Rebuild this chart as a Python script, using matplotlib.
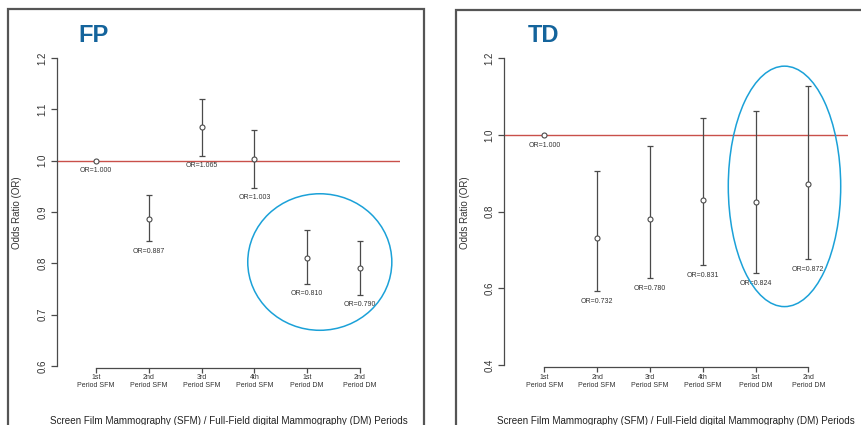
import matplotlib
matplotlib.use("Agg")
import matplotlib.pyplot as plt
from matplotlib.patches import Ellipse, Rectangle

plt.rcParams['font.family'] = ['Liberation Sans', 'DejaVu Sans']

# categories on the x axis
periods = ["1st\nPeriod SFM", "2nd\nPeriod SFM", "3rd\nPeriod SFM",
           "4th\nPeriod SFM", "1st\nPeriod DM", "2nd\nPeriod DM"]

# FP odds ratios and 95% CI (first period is the reference, no CI)
fp_or = [1.000, 0.887, 1.065, 1.003, 0.810, 0.790]
fp_lo = [None, 0.843, 1.010, 0.947, 0.760, 0.739]
fp_hi = [None, 0.934, 1.121, 1.060, 0.864, 0.843]
fp_yticks = [0.6, 0.7, 0.8, 0.9, 1.0, 1.1, 1.2]

# TD odds ratios and 95% CI
td_or = [1.000, 0.732, 0.780, 0.831, 0.824, 0.872]
td_lo = [None, 0.593, 0.627, 0.661, 0.640, 0.676]
td_hi = [None, 0.905, 0.971, 1.045, 1.063, 1.128]
td_yticks = [0.4, 0.6, 0.8, 1.0, 1.2]

x_label = "Screen Film Mammography (SFM) / Full-Field digital Mammography (DM) Periods"
y_label = "Odds Ratio (OR)"

GREY = "#4a4a4a"
RED = "#c9504a"
BLUE = "#1ba1d8"
TITLE_BLUE = "#14649c"


def draw_panel(ax, title, title_xy, odds, lo, hi, yticks, ylim, xlim, ellipse):
    xs = list(range(1, len(odds) + 1))

    # reference line at OR = 1
    ax.axhline(1.0, color=RED, lw=1.0, zorder=1)

    # error bars + points
    for x, o, l, h in zip(xs, odds, lo, hi):
        if l is not None:
            ax.errorbar([x], [o], yerr=[[o - l], [h - o]], fmt='none',
                        ecolor=GREY, elinewidth=0.9, capsize=2.2, capthick=0.9, zorder=2)
        ax.plot([x], [o], 'o', ms=3.6, mfc='white', mec=GREY, mew=0.8, zorder=3)
        base = o if l is None else l
        ax.annotate("OR=%.3f" % o, (x, base), xytext=(0, -7.3), textcoords='offset points',
                    ha='center', va='center', fontsize=5, color="#333333")

    # highlight ellipse
    cx, cy, w, h = ellipse
    ax.add_patch(Ellipse((cx, cy), w, h, fill=False, ec=BLUE, lw=1.1, zorder=4, clip_on=False))

    ax.set_xlim(*xlim)
    ax.set_ylim(*ylim)

    # R style axes: only left and bottom, bounded to the ticks
    for s in ('top', 'right'):
        ax.spines[s].set_visible(False)
    ax.spines['left'].set_bounds(yticks[0], yticks[-1])
    ax.spines['bottom'].set_bounds(1, len(odds))
    for s in ('left', 'bottom'):
        ax.spines[s].set_color(GREY)
        ax.spines[s].set_linewidth(0.9)

    ax.set_yticks(yticks)
    ax.set_yticklabels(["%.1f" % t for t in yticks], rotation=90, va='center')
    ax.set_xticks(xs)
    ax.set_xticklabels(periods, fontsize=5, linespacing=1.15)
    ax.tick_params(axis='y', length=4, width=0.9, color=GREY, labelsize=7, pad=3, labelcolor="#333333")
    ax.tick_params(axis='x', length=3.5, width=0.9, color=GREY, pad=1.5, labelcolor="#333333")

    ax.set_ylabel(y_label, fontsize=7, color="#333333", va='center')
    ax.set_xlabel(x_label, fontsize=7.1, color="#222222", va='center')

    ax.figure.text(title_xy[0], title_xy[1], title, fontsize=17, fontweight='bold',
                   color=TITLE_BLUE, ha='center', va='center')


fig = plt.figure(figsize=(8.61, 4.25), dpi=100)
fig.patch.set_facecolor('white')

# panel frames (figure pixel coordinates converted to fractions)
W, H = 861.0, 425.0
fig.patches.append(Rectangle((8 / W, -0.1), 416 / W, 1.1 - 9 / H, transform=fig.transFigure,
                             fill=False, ec="#555555", lw=1.6))
fig.patches.append(Rectangle((456 / W, -0.1), 0.6, 1.1 - 10 / H, transform=fig.transFigure,
                             fill=False, ec="#555555", lw=1.6))

ax1 = fig.add_axes([57 / W, 1 - 367.5 / H, 343 / W, 309.5 / H])
ax1.patch.set_alpha(0)
draw_panel(ax1, "FP", (94 / W, 1 - 35 / H), fp_or, fp_lo, fp_hi, fp_yticks,
           (0.597, 1.2), (0.26, 6.76), (5.24, 0.8025, 2.73, 0.266))
ax1.yaxis.set_label_coords(-0.117, 0.5)
ax1.xaxis.set_label_coords(0.5, -0.173)

ax2 = fig.add_axes([504 / W, 1 - 367 / H, 343.7 / W, 308.7 / H])
ax2.patch.set_alpha(0)
draw_panel(ax2, "TD", (544 / W, 1 - 35 / H), td_or, td_lo, td_hi, td_yticks,
           (0.395, 1.2), (0.237, 6.746), (5.549, 0.866, 2.129, 0.627))
ax2.yaxis.set_label_coords(-0.113, 0.5)
ax2.xaxis.set_label_coords(0.5, -0.175)

fig.savefig("out.png", dpi=100)
